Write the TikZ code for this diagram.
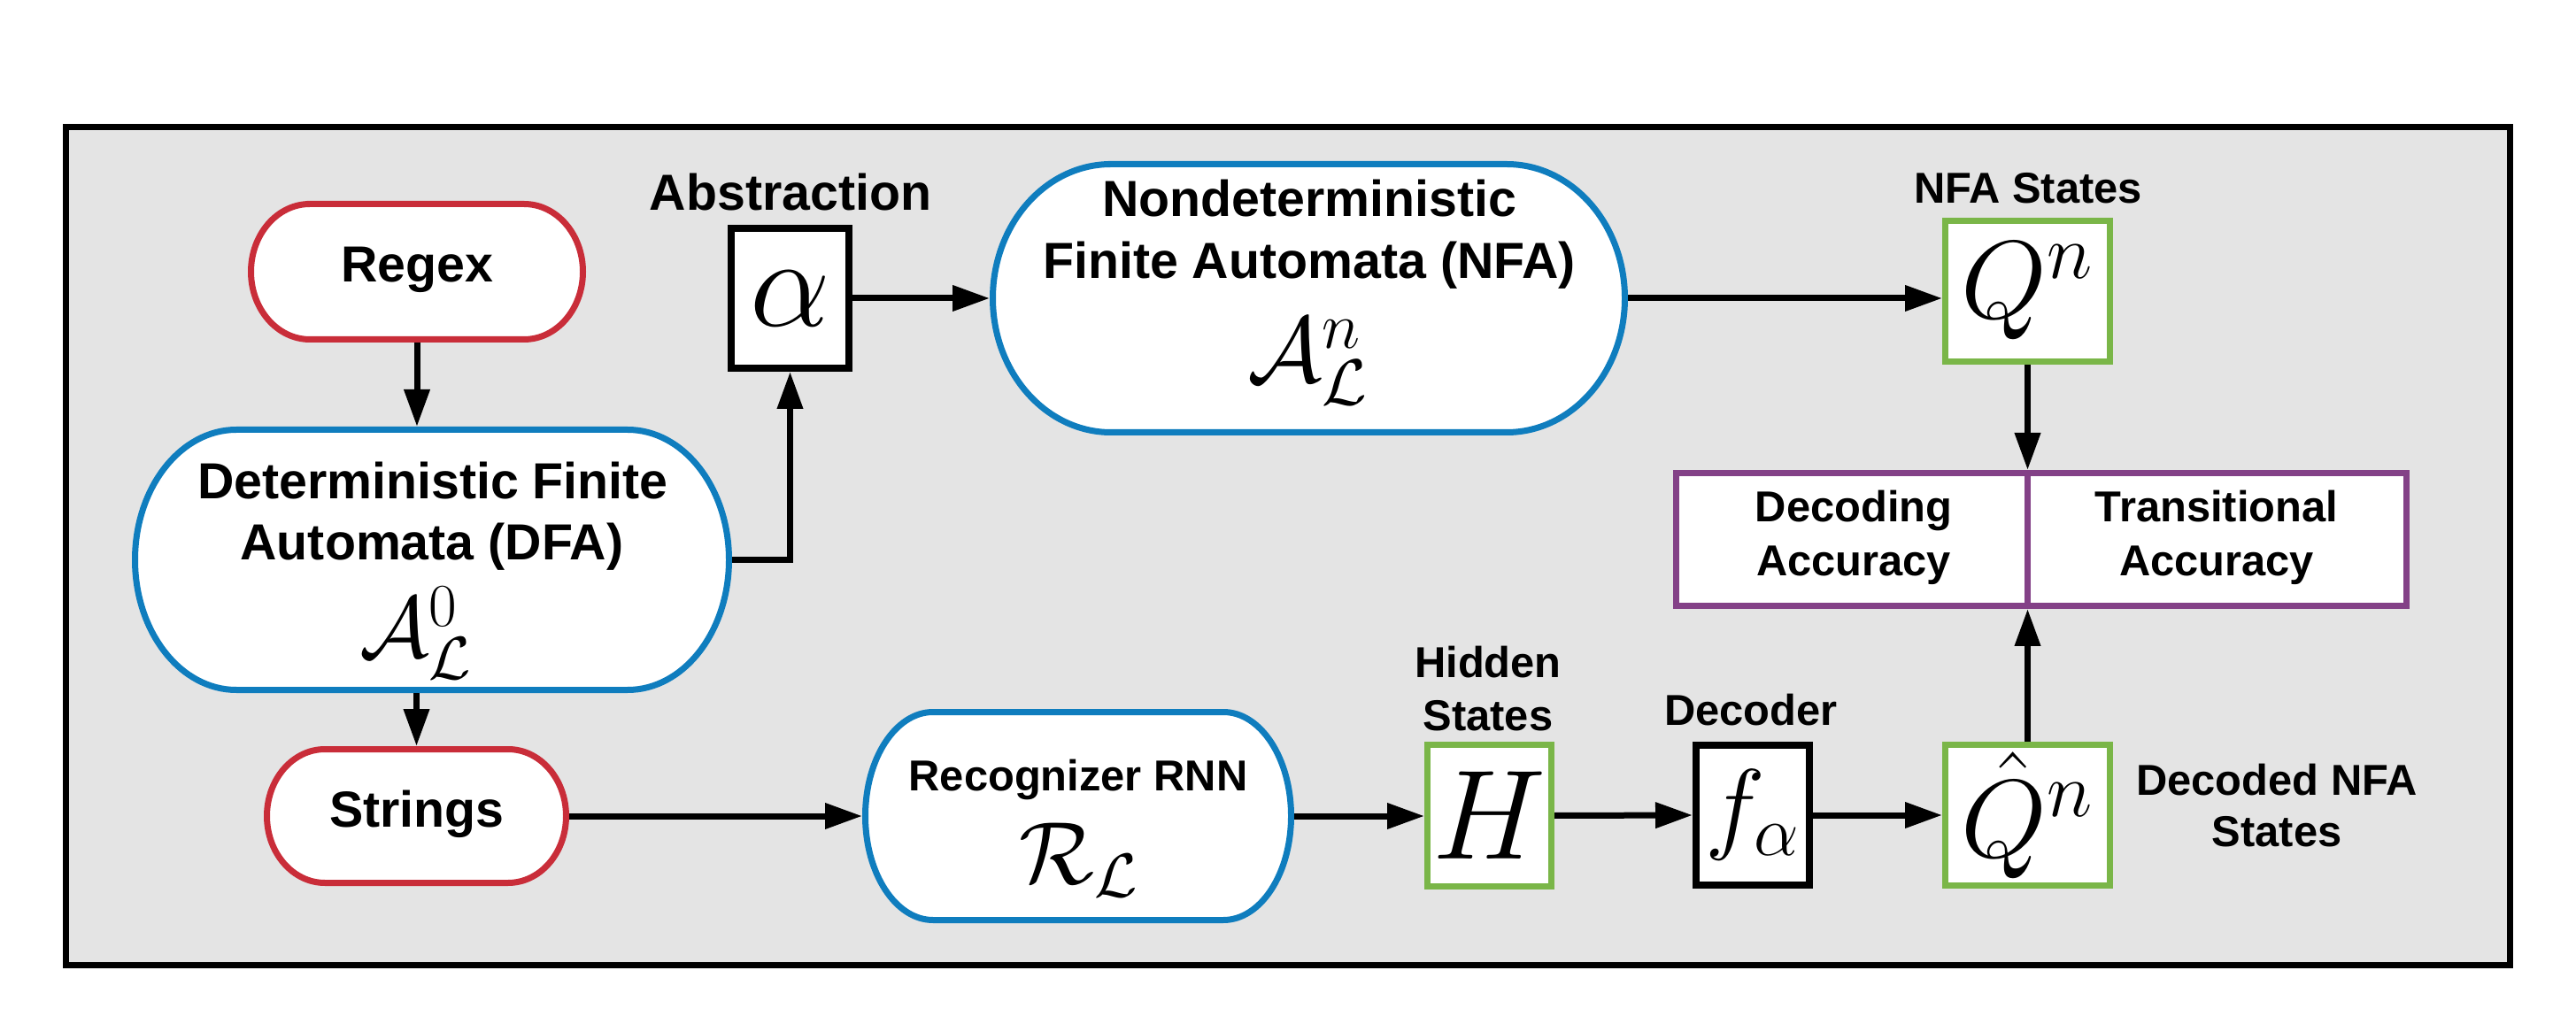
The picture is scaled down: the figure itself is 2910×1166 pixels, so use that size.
\documentclass[tikz,border=0pt]{standalone}
\usepackage{fix-cm}
\usepackage{fontspec}
\setmainfont{Liberation Sans}
\usetikzlibrary{arrows.meta}
\definecolor{bgg}{HTML}{E4E4E4}
\definecolor{cred}{HTML}{C92D39}
\definecolor{cblue}{HTML}{0F7DBE}
\definecolor{cgreen}{HTML}{7AB648}
\definecolor{cpurp}{HTML}{834187}
\newcommand\bigf{\fontsize{16.3pt}{19.6pt}\selectfont\bfseries}
\newcommand\smallf{\fontsize{13.9pt}{17pt}\selectfont\bfseries}
\newcommand\mathf[1]{\fontsize{#1}{#1}\selectfont}
% name, cx, cy, outer W, outer H, rx, colour (all in px units)
\newcommand\capsule[7]{%
  \filldraw[fill=white, draw=#7, line width=0.7mm]
    ({#2-#4/2+#6},{#3-#5/2+3.5}) -- ({#2+#4/2-#6},{#3-#5/2+3.5})
    arc[start angle=90, end angle=-90, x radius={(#6-3.5)*0.1mm}, y radius={(#5/2-3.5)*0.1mm}]
    -- ({#2-#4/2+#6},{#3+#5/2-3.5})
    arc[start angle=270, end angle=90, x radius={(#6-3.5)*0.1mm}, y radius={(#5/2-3.5)*0.1mm}]
    -- cycle;
  \node[inner sep=0, outer sep=0, minimum width={#4*0.1mm}, minimum height={#5*0.1mm}] (#1) at (#2,#3) {};}
\begin{document}
\begin{tikzpicture}[x=0.1mm, y=-0.1mm,
  arr/.style={line width=0.7mm, -{Triangle[length=4.2mm, width=2.8mm]}},
  big/.style={inner sep=0, anchor=base, font=\bigf},
  small/.style={inner sep=0, anchor=base, font=\smallf},
  mth/.style={inner sep=0, anchor=base, font=\mathf{#1}},
  box/.style={draw, fill=white, inner sep=0}]
\useasboundingbox (0,0) rectangle (2910,1166);
% frame
\draw[line width=0.7mm, fill=bgg] (74,144) rectangle (2835,1090);

% capsules
\capsule{regex}{471}{307}{382}{160}{70}{cred}
\capsule{dfa}{488}{632.5}{678}{301}{118}{cblue}
\capsule{strings}{470.5}{922}{345}{158}{69}{cred}
\capsule{nfa}{1478.5}{337}{721}{310}{137}{cblue}
\capsule{rnn}{1218}{922}{488}{242}{80}{cblue}

% boxes
\node[box, line width=0.8mm, minimum width=13.3mm, minimum height=15.8mm, font=\mathf{41pt}] (alpha) at (892.5,337) {$\alpha$};
\node[box, draw=cgreen, line width=0.7mm, minimum width=18.6mm, minimum height=15.9mm, font=\mathf{35.6pt}] (qn) at (2290.5,329) {$Q^n$};
\node[box, draw=cgreen, line width=0.7mm, minimum width=14mm, minimum height=16mm, font=\mathf{41pt}] (h) at (1682.5,921.5) {$H$};
\node[box, line width=0.8mm, minimum width=12.8mm, minimum height=15.8mm, font=\mathf{32.7pt}] (f) at (1980,921) {$f_\alpha$};
\node[box, draw=cgreen, line width=0.7mm, minimum width=18.6mm, minimum height=15.9mm, font=\mathf{35.6pt}] (qhat) at (2290.5,921) {$\hat{Q}^n$};
\node[box, draw=cpurp, line width=0.7mm, minimum width=39.65mm, minimum height=15mm] (decacc) at (2091.75,609.5) {};
\node[box, draw=cpurp, line width=0.7mm, minimum width=42.85mm, minimum height=15mm] (transacc) at (2504.25,609.5) {};

% texts
\node[big] (regext) at (471,319) {Regex};
\node[big] (dfat1) at (489,564) {Deterministic Finite};
\node[big] (dfat2) at (488,633) {Automata (DFA)};
\node[mth=27.9pt] (dfam) at (470,743) {$\mathcal{A}^0_{\mathcal{L}}$};
\node[big] (strt) at (471,934) {Strings};
\node[big] (abst) at (893,238) {Abstraction};
\node[big] (nfat1) at (1479,245) {Nondeterministic};
\node[big] (nfat2) at (1479,315) {Finite Automata (NFA)};
\node[mth=29.9pt] (nfam) at (1478,432) {$\mathcal{A}^n_{\mathcal{L}}$};
\node[small] (nfast) at (2291,230) {NFA States};
\node[small] (rnnt) at (1218,893) {Recognizer RNN};
\node[mth=28.5pt] (rnnm) at (1219,998) {$\mathcal{R}_{\mathcal{L}}$};
\node[small] (hid1) at (1681,765) {Hidden};
\node[small] (hid2) at (1681,825) {States};
\node[small] (dect) at (1978,820) {Decoder};
\node[small] (dn1) at (2572,898) {Decoded NFA};
\node[small] (dn2) at (2572,956) {States};
\node[small] (da1) at (2094,590) {Decoding};
\node[small] (da2) at (2094,651) {Accuracy};
\node[small] (ta1) at (2504,590) {Transitional};
\node[small] (ta2) at (2504,651) {Accuracy};

% connectors
\draw[arr] (regex.south) -- (regex.south |- dfa.north);
\draw[arr] (dfa.east) -| (alpha.south);
\draw[arr] (alpha.east) -- (nfa.west);
\draw[arr] (nfa.east) -- (nfa.east -| qn.west);
\draw[arr] (qn.south) -- (qn.south |- decacc.north);
\draw[arr] (strings.north |- dfa.south) -- (strings.north);
\draw[arr] (strings.east) -- (rnn.west);
\draw[arr] (rnn.east) -- (rnn.east -| h.west);
\draw[arr] (h.east) -- (f.west);
\draw[arr] (f.east) -- (qhat.west);
\draw[arr] (qhat.north) -- (qhat.north |- decacc.south);
\end{tikzpicture}
\end{document}
